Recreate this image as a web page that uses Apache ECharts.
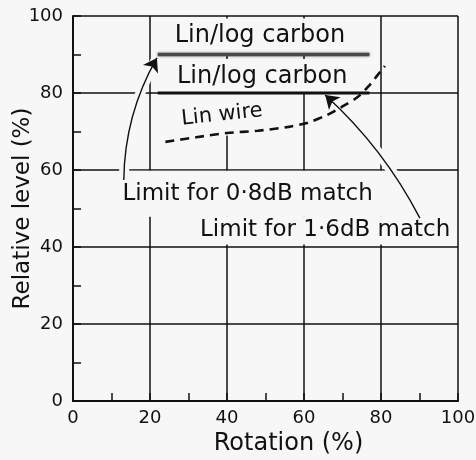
<!DOCTYPE html>
<html>
<head>
<meta charset="utf-8">
<script src="https://cdn.jsdelivr.net/npm/echarts@6/dist/echarts.min.js"></script>
<style>
  html, body { margin: 0; padding: 0; background: #f7f7f7; }
  #chart { width: 476px; height: 460px; }
</style>
</head>
<body>
<div id="chart"></div>
<script>
// Axis tick values
const xTicks = [0, 20, 40, 60, 80, 100];
const yTicks = [0, 20, 40, 60, 80, 100];

// Linear wire-wound track: relative level (%) against rotation (%)
const linWireRotation = [24, 32, 40, 48, 56, 61, 66, 70, 74, 77, 79, 81];
const linWireLevel = [67.3, 68.5, 69.6, 70.2, 71.2, 72.3, 74.3, 76.5, 79, 82, 84.5, 87];

// Lin/log carbon tracks: matching limits over the usable rotation span
const carbonSpan = [22, 77];
const limit08Level = 90;   // 0.8 dB match
const limit16Level = 80;   // 1.6 dB match

// Pointer curves: [start, end] in axis units
const pointer08 = [[13.2, 57.4], [21.8, 89.1]];
const pointer16 = [[90.1, 47.5], [65.5, 79.5]];

// Caption texts
const captions = ['Lin/log carbon', 'Lin/log carbon', 'Lin wire',
                  'Limit for 0·8dB match', 'Limit for 1·6dB match'];

const ink = '#111';
const paper = '#f7f7f7';
const font = 'DejaVu Sans';

const linWire = linWireRotation.map((x, i) => [x, linWireLevel[i]]);
const limit08 = carbonSpan.map(x => [x, limit08Level]);
const limit16 = carbonSpan.map(x => [x, limit16Level]);

function caption(pos, text, size, padding, rotate) {
  return {
    value: pos,
    label: {
      show: true, position: 'inside', formatter: text,
      fontFamily: font, fontSize: size, color: ink, opacity: 1,
      lineHeight: size + 5,
      backgroundColor: paper, padding: padding, rotate: rotate || 0
    }
  };
}

const pointers = [
  { coords: pointer08, lineStyle: { curveness: 0.13 } },
  { coords: pointer16, lineStyle: { curveness: -0.09 } }
];

const chart = echarts.init(document.getElementById('chart'), null, { renderer: 'canvas' });
chart.setOption({
  backgroundColor: paper,
  animation: false,
  grid: { left: 73, top: 16, width: 385, height: 385, outerBoundsMode: 'none', containLabel: false },
  xAxis: {
    type: 'value', min: xTicks[0], max: xTicks[xTicks.length - 1], interval: 20,
    name: 'Rotation (%)', nameLocation: 'middle', nameGap: 31, nameMoveOverlap: false,
    nameTextStyle: { fontFamily: font, fontSize: 24, color: ink, padding: [0, 0, 0, 46] },
    axisLine: { lineStyle: { color: ink, width: 2 } },
    axisTick: { show: true, inside: true, length: 8, lineStyle: { color: ink, width: 1.5 } },
    minorTick: { show: true, splitNumber: 2, length: 8, lineStyle: { color: ink, width: 1.5 } },
    axisLabel: { fontFamily: font, fontSize: 18, color: ink, margin: 8 },
    splitLine: { show: true, lineStyle: { color: ink, width: 1.5 } }
  },
  yAxis: {
    type: 'value', min: yTicks[0], max: yTicks[yTicks.length - 1], interval: 20,
    name: 'Relative level (%)', nameLocation: 'middle', nameGap: 38, nameMoveOverlap: false,
    nameTextStyle: { fontFamily: font, fontSize: 23, color: ink },
    axisLine: { show: true, lineStyle: { color: ink, width: 2 } },
    axisTick: { show: true, inside: true, length: 8, lineStyle: { color: ink, width: 1.5 } },
    minorTick: { show: true, splitNumber: 2, length: 8, lineStyle: { color: ink, width: 1.5 } },
    axisLabel: { fontFamily: font, fontSize: 18, color: ink, margin: 10 },
    splitLine: { show: true, lineStyle: { color: ink, width: 1.5 } }
  },
  series: [
    {
      // captions sit on blank panels that break the grid behind them
      name: 'captions', type: 'scatter', symbolSize: 0, z: 2, silent: true,
      itemStyle: { opacity: 1 },
      data: [
        caption([48.8, 94.8], captions[0], 24, [3, 14, 3, 12]),
        caption([49.4, 84.3], captions[1], 24, [3, 14, 3, 12]),
        caption([38.7, 74.3], captions[2], 21, [12, 4, 4, 4], 6),
        caption([46.4, 53.8], captions[3], 23, [10, 12, 8, 4]),
        caption([65.5, 44.3], captions[4], 23, [0, 3, 0, 3])
      ]
    },
    {
      // blank margin left around the pointers where they cross the grid
      name: 'pointer margin', type: 'lines', coordinateSystem: 'cartesian2d', z: 3,
      silent: true, symbol: 'none',
      lineStyle: { color: paper, width: 10, opacity: 1 },
      data: pointers
    },
    {
      name: 'Limit 0.8 dB', type: 'line', z: 4, data: limit08, symbol: 'none',
      lineStyle: { color: '#4a4a4a', width: 3.5, shadowBlur: 3, shadowColor: 'rgba(0,0,0,0.45)' }
    },
    {
      name: 'Limit 1.6 dB', type: 'line', z: 4, data: limit16, symbol: 'none',
      lineStyle: { color: ink, width: 3 }
    },
    {
      name: 'Lin wire', type: 'line', z: 4, data: linWire, symbol: 'none', smooth: 0.3,
      lineStyle: { color: ink, width: 2.6, type: [9, 6] }
    },
    {
      name: 'pointers', type: 'lines', coordinateSystem: 'cartesian2d', z: 5,
      symbol: ['none', 'arrow'], symbolSize: 13,
      lineStyle: { color: ink, width: 1.4, opacity: 1 },
      data: pointers
    }
  ]
});
</script>
</body>
</html>
